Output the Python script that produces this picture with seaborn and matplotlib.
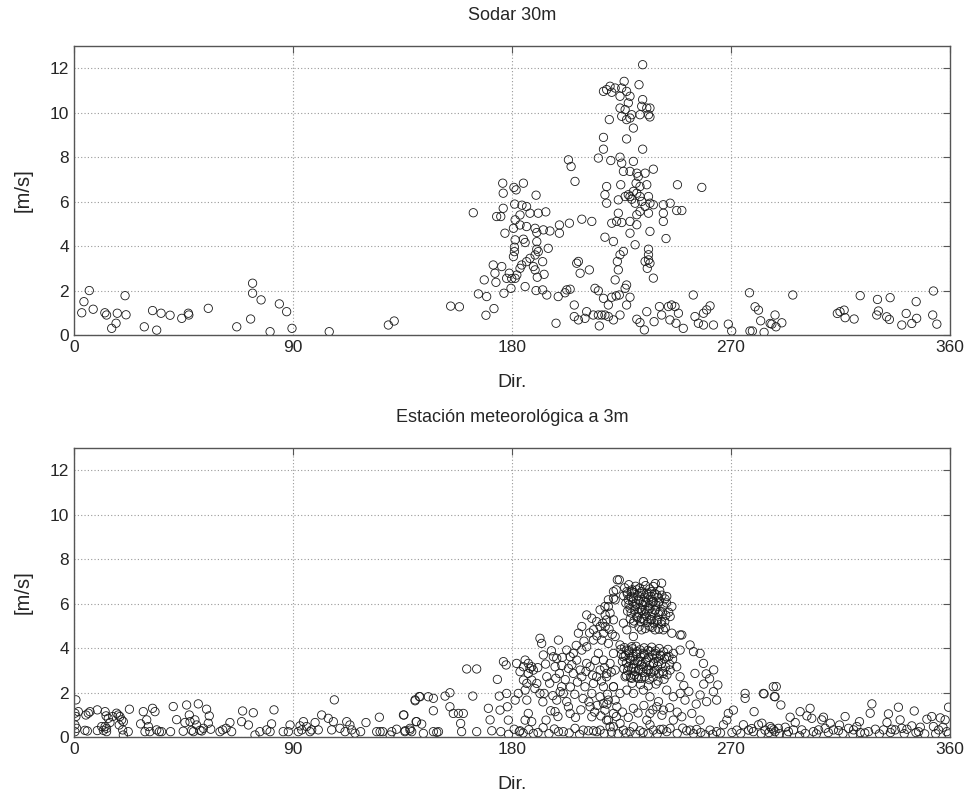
import matplotlib
matplotlib.use("Agg")
import matplotlib.pyplot as plt
import seaborn as sns
import pandas as pd

# Sodar 30m: (direction [deg], speed [m/s])
sodar_west = [
    (3.2, 1.0), (4.1, 1.5), (6.3, 2.0), (7.9, 1.16), (12.7, 1.0), (13.4, 0.9),
    (15.5, 0.3), (17.3, 0.53), (17.8, 0.98), (21.0, 1.77), (21.4, 0.91),
    (28.9, 0.37), (32.3, 1.1), (34.0, 0.22), (35.8, 0.98), (39.5, 0.89),
    (44.3, 0.75), (47.0, 0.98), (47.2, 0.9), (55.2, 1.2), (66.9, 0.37),
    (72.6, 0.72), (73.4, 2.33), (73.4, 1.88), (76.9, 1.58), (80.6, 0.15),
    (84.4, 1.4), (87.4, 1.05), (89.6, 0.3), (104.9, 0.15), (129.2, 0.45),
    (131.6, 0.63), (154.8, 1.3), (158.4, 1.27),
]
sodar_core = [
    (164.1, 5.5), (166.2, 1.85), (169.6, 1.73), (169.3, 0.89), (172.6, 1.19),
    (168.6, 2.48), (172.3, 3.15), (173.0, 2.78), (173.4, 2.37), (175.8, 3.08),
    (173.7, 5.33), (175.4, 5.33), (176.2, 6.83), (176.4, 6.38), (176.4, 5.7),
    (177.1, 4.58), (176.7, 1.88), (177.8, 2.55), (178.9, 2.78), (179.6, 2.1),
    (179.9, 2.54), (180.8, 6.64), (181.7, 6.53), (184.7, 6.83), (189.9, 6.29),
    (181.1, 5.89), (184.1, 5.84), (186.0, 5.78), (183.3, 5.4), (187.4, 5.48),
    (190.8, 5.48), (193.9, 5.54), (181.3, 5.18), (180.6, 4.8), (183.3, 4.95),
    (186.0, 4.88), (189.5, 4.8), (192.9, 4.73), (195.6, 4.68), (199.5, 4.95),
    (203.6, 5.03), (199.5, 4.58), (190.2, 4.61), (181.3, 4.28), (184.7, 4.31),
    (185.4, 4.16), (190.2, 4.2), (181.0, 3.95), (181.0, 3.75), (180.6, 3.53),
    (190.2, 3.86), (190.8, 3.75), (194.9, 3.9), (189.5, 3.6), (187.4, 3.45),
    (186.0, 3.3), (184.0, 3.15), (183.3, 3.0), (188.8, 3.08), (189.5, 2.93),
    (192.6, 3.3), (182.0, 2.7), (181.3, 2.55), (190.4, 2.6), (193.2, 2.73),
    (185.4, 2.18), (189.9, 2.0), (192.6, 2.03), (194.3, 1.8), (199.0, 1.73),
    (201.8, 1.9), (202.5, 2.03), (203.9, 2.06), (198.1, 0.53), (205.6, 1.35),
    (205.6, 0.83), (203.2, 7.88), (204.3, 7.58), (205.9, 6.91), (206.6, 3.23),
    (208.0, 2.78), (207.3, 0.68),
    (233.7, 12.16), (217.6, 10.96), (218.9, 11.04), (220.3, 11.19), (221.0, 10.92),
    (222.4, 11.11), (224.4, 10.74), (226.1, 11.41), (225.1, 11.11), (227.1, 10.96),
    (228.5, 10.74), (227.8, 10.44), (226.5, 10.14), (224.4, 10.21), (225.1, 9.84),
    (227.1, 9.69), (229.2, 9.91), (228.5, 9.76), (229.9, 9.31), (232.2, 11.26),
    (233.7, 10.59), (233.3, 10.29), (235.4, 10.21), (236.7, 10.21), (236.1, 9.91),
    (236.7, 9.81), (232.6, 9.91), (220.0, 9.69), (217.6, 8.89), (217.6, 8.36),
    (227.1, 8.82), (233.7, 8.36), (215.5, 7.96), (220.6, 7.85), (224.4, 8.0),
    (225.1, 7.73), (229.9, 7.81), (225.8, 7.36), (228.5, 7.36), (231.3, 7.28),
    (231.9, 7.13), (234.7, 7.28), (238.1, 7.46), (231.0, 6.83), (232.6, 6.68),
    (235.4, 6.76), (224.7, 6.76), (218.9, 6.68), (218.2, 6.31), (218.9, 5.93),
    (223.7, 6.08), (226.5, 6.23), (227.8, 6.31), (228.5, 6.23), (229.2, 6.11),
    (229.9, 6.46), (231.3, 6.38), (232.6, 6.23), (230.6, 5.93), (233.3, 6.01),
    (236.1, 6.23), (236.7, 5.93), (234.7, 5.78), (238.1, 5.86), (236.1, 5.48),
    (242.2, 5.86), (245.0, 5.93), (247.7, 5.6), (249.8, 5.6), (248.0, 6.76),
    (258.0, 6.64), (232.6, 5.56), (231.3, 5.41), (223.7, 5.48), (223.0, 5.11),
    (221.0, 5.03), (225.1, 5.06), (228.5, 5.11), (231.3, 4.96), (242.2, 5.48),
    (242.2, 5.11), (236.7, 4.66), (228.5, 4.58), (243.3, 4.34), (218.2, 4.4),
    (221.7, 4.21), (230.6, 4.06), (236.1, 3.86), (225.8, 3.76), (224.4, 3.61),
    (236.1, 3.61), (236.1, 3.38), (234.7, 3.31), (236.7, 3.23), (235.6, 3.0),
    (223.3, 3.31), (223.7, 2.93), (238.1, 2.56), (222.4, 2.48), (227.1, 2.25),
    (226.5, 2.1), (207.3, 3.31), (211.8, 2.93), (208.7, 5.21), (212.8, 5.11),
    (214.1, 2.1), (215.5, 1.99), (217.6, 1.65), (221.0, 1.7), (222.8, 1.76),
    (224.1, 1.8), (228.5, 1.7), (219.6, 1.35), (227.1, 1.35), (210.7, 1.05),
    (210.0, 0.75), (213.4, 0.9), (215.5, 0.9), (216.9, 0.9), (218.2, 0.9),
    (219.6, 0.83), (221.7, 0.68), (224.4, 0.9), (215.9, 0.41), (231.3, 0.71),
    (232.6, 0.56), (234.4, 0.23), (235.4, 1.05), (238.4, 0.6), (240.6, 1.28),
    (241.5, 0.9), (244.3, 1.28), (245.6, 1.35), (247.0, 1.28), (244.9, 0.68),
    (247.4, 0.53), (248.4, 0.98), (250.4, 0.3), (254.5, 1.8), (255.2, 0.83),
    (256.6, 0.53), (258.7, 0.45), (258.7, 0.98), (260.0, 1.13), (261.4, 1.31),
    (262.8, 0.45),
]
sodar_east = [
    (268.9, 0.49), (270.3, 0.18), (277.6, 1.9), (279.9, 1.27), (281.3, 1.12),
    (282.2, 0.64), (277.8, 0.18), (278.8, 0.18), (283.6, 0.12), (286.1, 0.52),
    (286.8, 0.49), (288.1, 0.9), (288.5, 0.37), (290.9, 0.55), (295.4, 1.8),
    (313.7, 0.97), (314.8, 1.05), (316.5, 1.12), (316.9, 0.78), (320.6, 0.72),
    (323.1, 1.77), (330.2, 1.6), (335.4, 1.68), (330.6, 1.08), (329.9, 0.9),
    (334.0, 0.82), (335.1, 0.7), (340.2, 0.45), (342.0, 0.97), (344.3, 0.52),
    (346.1, 1.5), (346.3, 0.75), (353.2, 1.98), (352.9, 0.9), (354.6, 0.49),
]

# Estacion meteorologica 3m
station_west = [
    (0.8, 1.67), (0.4, 1.07), (0.8, 0.92), (0.4, 0.54), (1.1, 0.39), (0.4, 0.24),
    (1.8, 1.14), (4.9, 0.99), (4.5, 0.3), (5.5, 0.27), (6.6, 1.14), (5.9, 1.07),
    (9.6, 1.22), (9.6, 0.29), (11.4, 0.47), (12.8, 1.14), (13.2, 0.95), (12.1, 0.3),
    (12.8, 0.47), (13.4, 0.39), (13.4, 0.24), (14.1, 0.84), (14.8, 0.65),
    (15.9, 0.92), (17.5, 1.07), (18.2, 0.99), (18.9, 0.92), (19.6, 0.77),
    (20.3, 0.69), (18.6, 0.54), (20.0, 0.32), (20.3, 0.09), (22.3, 0.24),
    (22.8, 1.25), (27.4, 0.59), (28.5, 1.14), (29.9, 0.77), (30.6, 0.47),
    (29.2, 0.24), (31.2, 0.24), (32.3, 1.29), (33.3, 1.14), (34.0, 0.32),
    (35.1, 0.24), (36.0, 0.24), (39.7, 0.24), (40.8, 1.37), (42.2, 0.78),
    (44.9, 0.26), (45.6, 0.65), (46.3, 1.44), (47.4, 0.99), (47.7, 0.69),
    (48.4, 0.3), (49.1, 0.24), (49.7, 0.77), (50.4, 0.54), (51.1, 1.49),
    (51.8, 0.3), (52.5, 0.27), (53.2, 0.39), (54.5, 1.25), (55.6, 0.95),
    (55.2, 0.62), (56.2, 0.35), (60.0, 0.24), (61.1, 0.32), (62.5, 0.39),
    (64.1, 0.65), (64.8, 0.24), (69.3, 1.17), (68.9, 0.69), (71.7, 0.54),
    (73.7, 1.09), (74.4, 0.09), (76.4, 0.24), (79.2, 0.32), (80.6, 0.24),
    (81.2, 0.59), (82.2, 1.22), (86.0, 0.24), (88.8, 0.54), (88.1, 0.24),
    (92.2, 0.24), (92.9, 0.5), (93.6, 0.32), (94.3, 0.69), (95.6, 0.47),
    (97.0, 0.24), (97.7, 0.32), (99.1, 0.65), (100.4, 0.32), (101.8, 0.99),
    (104.5, 0.84), (105.9, 0.32), (106.6, 0.69), (107.0, 1.67), (109.3, 0.39),
    (111.4, 0.24), (112.1, 0.69), (113.4, 0.54), (114.1, 0.32), (115.5, 0.17),
    (117.8, 0.24), (120.0, 0.65), (124.4, 0.24), (125.5, 0.89), (125.8, 0.24),
    (126.9, 0.24), (129.9, 0.09), (130.6, 0.24), (132.6, 0.35), (135.4, 0.99),
    (136.0, 0.24), (138.1, 0.39), (138.8, 0.24), (140.2, 1.67), (140.8, 0.69),
    (141.9, 1.82),
]
station_core = [
    (135.6, 0.99), (136.1, 0.28), (138.1, 0.31), (140.2, 1.63), (140.6, 0.69),
    (142.9, 0.58), (143.6, 0.16), (142.2, 1.81), (145.6, 1.81), (147.7, 1.74),
    (147.7, 1.18), (147.7, 0.24), (149.8, 0.24), (149.1, 0.21), (152.5, 1.84),
    (154.5, 1.99), (154.5, 1.36), (155.9, 1.06), (158.0, 1.06), (160.0, 1.06),
    (158.9, 0.61), (159.3, 0.24), (161.4, 3.06), (165.5, 3.06), (163.9, 1.84),
    (165.5, 0.24), (170.3, 1.29), (171.0, 0.77), (171.7, 0.28), (174.0, 2.59),
    (174.8, 1.84), (175.1, 1.21), (175.4, 0.24), (177.8, 1.96), (178.1, 1.36),
    (178.5, 0.76), (176.5, 3.39), (177.6, 3.24), (181.3, 1.66), (182.6, 1.96),
    (183.0, 0.24), (183.3, 0.28), (181.9, 3.31), (183.3, 2.94), (184.7, 3.16),
    (185.4, 3.46), (186.7, 3.31), (187.4, 3.09), (188.1, 3.16), (188.8, 3.01),
    (186.7, 2.86), (184.7, 2.56), (186.1, 2.41), (188.1, 2.56), (185.4, 2.11),
    (186.1, 1.66), (186.7, 1.06), (185.4, 0.76), (188.1, 0.69), (188.8, 0.16),
    (191.5, 4.44), (192.2, 4.21), (192.9, 3.69), (191.5, 1.96), (193.2, 1.96),
    (190.2, 2.41), (194.3, 2.71), (194.0, 0.76), (197.0, 3.61), (197.7, 3.16),
    (198.4, 3.54), (199.1, 4.36), (199.5, 2.86), (200.4, 2.26), (199.8, 2.04),
    (201.1, 1.96), (198.4, 1.66), (197.7, 1.14), (199.1, 0.24), (201.1, 0.24),
    (202.5, 3.91), (203.9, 3.61), (205.2, 3.76), (203.2, 3.09), (205.2, 2.86),
    (202.5, 1.59), (203.9, 1.06), (203.2, 1.36), (206.6, 3.46), (208.0, 3.01),
    (207.3, 4.67), (208.7, 4.97), (210.7, 5.49), (212.8, 5.34), (210.7, 4.06),
    (210.7, 3.31), (208.7, 2.71), (210.0, 2.26), (212.1, 3.16), (213.5, 2.41),
    (212.8, 1.96), (212.1, 1.36), (212.8, 0.91), (209.3, 0.31), (211.4, 0.28),
    (213.5, 0.28), (214.8, 0.24), (216.2, 0.31), (216.2, 5.72), (218.2, 5.87),
    (218.9, 5.27), (216.2, 4.97), (216.9, 4.36), (215.5, 3.76), (217.6, 3.46),
    (216.2, 3.01), (218.9, 2.86), (214.8, 2.71), (217.6, 2.26), (216.2, 1.81),
    (219.6, 1.66), (218.2, 1.21), (219.6, 0.76), (220.3, 0.46), (221.7, 6.54),
    (223.3, 7.07), (222.4, 6.17), (221.7, 5.27), (222.4, 4.52), (221.7, 3.76),
    (222.4, 3.01), (221.7, 2.26), (222.4, 1.66), (221.7, 1.06), (213.5, 4.82),
    (214.8, 5.19), (219.6, 6.17), (220.3, 5.57), (217.6, 4.67), (219.6, 4.21),
    (213.5, 4.36), (208.7, 3.91),
    (224.1, 7.07), (222.8, 6.62), (221.7, 6.24), (219.6, 5.87), (218.3, 5.49),
    (218.3, 4.97), (234.0, 6.99), (241.5, 6.92), (238.1, 6.77), (243.6, 6.32),
    (245.7, 5.87), (245.0, 5.42), (245.7, 4.67), (249.1, 4.59), (242.2, 4.82),
    (225.8, 5.12), (227.2, 4.82), (229.9, 4.52), (233.3, 4.82),
    (227.2, 6.54), (229.2, 6.54), (231.3, 6.62), (233.3, 6.54), (235.4, 6.47),
    (237.4, 6.54), (239.5, 6.39), (227.8, 6.17), (229.9, 6.24), (231.9, 6.17),
    (234.0, 6.09), (236.1, 6.17), (238.1, 6.09), (240.2, 6.02), (228.5, 5.79),
    (230.6, 5.87), (232.6, 5.79), (234.7, 5.72), (236.7, 5.79), (238.8, 5.72),
    (240.9, 5.64), (231.3, 5.42), (233.3, 5.34), (235.4, 5.42), (237.4, 5.27),
    (239.5, 5.27), (241.5, 5.19), (229.9, 5.12), (236.7, 4.97), (238.8, 4.82),
    (224.4, 4.14), (227.2, 3.91), (229.2, 4.06), (231.3, 3.84), (234.0, 3.76),
    (236.7, 3.84), (238.8, 3.76), (240.9, 3.69), (243.6, 3.61), (246.3, 3.76),
    (225.8, 3.61), (228.5, 3.54), (230.6, 3.46), (232.6, 3.39), (235.4, 3.46),
    (238.1, 3.31), (240.2, 3.39), (227.8, 3.16), (229.9, 3.09), (232.0, 3.01),
    (234.0, 3.16), (236.1, 3.01), (238.1, 2.94), (226.5, 2.71), (229.2, 2.64),
    (231.3, 2.71), (233.3, 2.64), (242.2, 2.86), (245.0, 3.01), (247.7, 3.16),
    (249.1, 2.71), (249.1, 3.91), (253.2, 4.14), (254.6, 3.84), (257.3, 3.76),
    (258.7, 3.31), (255.2, 2.86), (249.8, 4.59), (220.3, 3.31), (218.9, 2.71),
    (221.7, 2.26), (224.4, 1.96), (227.2, 2.11), (229.9, 1.96), (234.0, 2.11),
    (236.7, 1.81), (240.2, 1.59), (242.2, 1.21), (243.6, 2.11), (246.3, 1.81),
    (249.1, 1.96), (251.1, 1.66), (253.9, 1.06), (257.3, 1.89), (260.0, 1.59),
    (262.8, 2.04), (264.1, 1.66), (268.9, 1.06), (271.0, 1.21), (275.8, 1.96),
    (275.8, 1.74), (279.5, 1.14), (283.3, 1.96), (287.4, 2.26), (288.1, 1.81),
    (218.9, 0.76), (221.7, 0.46), (224.4, 0.61), (225.8, 0.31), (228.5, 0.24),
    (229.9, 0.46), (232.6, 0.28), (235.4, 0.76), (236.7, 0.55), (238.1, 0.31),
    (240.9, 0.34), (243.6, 0.24), (245.0, 0.39), (246.3, 0.76), (249.8, 0.91),
    (251.8, 0.28), (253.2, 0.31), (255.9, 0.34), (257.3, 0.76), (259.4, 0.1),
    (261.4, 0.31), (264.1, 0.24), (266.9, 0.55), (268.3, 0.76), (272.4, 0.31),
    (275.1, 0.55), (277.2, 0.31), (279.2, 0.24), (281.3, 0.55), (284.0, 0.31),
    (286.7, 0.39), (288.1, 0.24), (217.6, 1.51), (223.1, 1.36), (229.9, 1.29),
    (236.7, 1.06), (239.5, 1.36),
]
# the two dense blobs (about 225-245 deg) and their surroundings
station_blob_high = [
    (226.3, 6.71), (228.0, 6.85), (229.4, 6.62), (230.8, 6.78), (232.5, 6.70),
    (234.9, 6.81), (236.6, 6.66), (238.9, 6.90), (240.7, 6.58),
    (225.9, 6.35), (227.4, 6.44), (228.9, 6.31), (230.2, 6.49), (231.7, 6.36),
    (233.0, 6.45), (234.4, 6.29), (235.8, 6.41), (237.1, 6.33), (238.6, 6.46),
    (240.0, 6.28), (241.6, 6.38), (242.9, 6.21),
    (226.8, 6.02), (228.1, 5.95), (229.6, 6.08), (231.0, 5.98), (232.3, 6.12),
    (233.7, 5.96), (235.0, 6.05), (236.4, 5.92), (237.8, 6.07), (239.1, 5.94),
    (240.6, 6.10), (242.1, 5.89), (243.5, 6.03),
    (227.5, 5.66), (229.0, 5.58), (230.3, 5.71), (231.9, 5.60), (233.2, 5.69),
    (234.6, 5.55), (236.0, 5.68), (237.5, 5.57), (238.8, 5.70), (240.3, 5.52),
    (241.8, 5.63), (243.2, 5.48), (244.4, 5.61),
    (228.6, 5.31), (230.1, 5.22), (231.5, 5.36), (232.9, 5.19), (234.2, 5.30),
    (235.7, 5.15), (237.0, 5.28), (238.4, 5.12), (239.9, 5.24), (241.3, 5.08),
    (242.8, 5.20), (232.2, 4.95), (234.8, 4.88), (237.6, 4.93), (240.4, 4.85),
    (243.0, 4.92),
]
station_blob_low = [
    (224.8, 3.95), (226.2, 4.02), (227.9, 3.88), (229.5, 3.97), (231.0, 4.08),
    (232.6, 3.92), (234.3, 4.01), (235.9, 3.90), (237.4, 4.04), (239.0, 3.87),
    (240.5, 3.98), (242.3, 3.83), (244.1, 3.94),
    (225.0, 3.72), (226.6, 3.66), (228.1, 3.78), (229.7, 3.63), (231.2, 3.74),
    (232.9, 3.60), (234.5, 3.71), (236.2, 3.58), (237.8, 3.69), (239.4, 3.55),
    (241.0, 3.66), (242.7, 3.52), (244.5, 3.63), (246.0, 3.50),
    (225.4, 3.40), (227.0, 3.33), (228.6, 3.45), (230.1, 3.29), (231.7, 3.41),
    (233.3, 3.26), (234.9, 3.37), (236.6, 3.22), (238.2, 3.34), (239.8, 3.19),
    (241.4, 3.30), (243.1, 3.15), (244.8, 3.27),
    (226.0, 3.07), (227.5, 2.98), (229.1, 3.10), (230.6, 2.94), (232.2, 3.05),
    (233.8, 2.90), (235.4, 3.02), (237.0, 2.87), (238.7, 2.99), (240.4, 2.84),
    (242.0, 2.95), (243.7, 2.80),
    (227.0, 2.76), (228.7, 2.68), (230.3, 2.79), (232.0, 2.63), (234.6, 2.72),
    (236.4, 2.58), (238.0, 2.69), (240.0, 2.52), (242.5, 2.60),
    (229.4, 2.42), (232.8, 2.36), (236.0, 2.30), (239.2, 2.38),
]
station_fill = [
    (195.5, 2.42), (196.8, 1.86), (198.0, 2.64), (200.5, 3.22), (201.9, 2.58),
    (204.0, 2.25), (205.8, 1.92), (206.9, 2.47), (209.2, 1.73), (210.4, 2.95),
    (211.6, 1.58), (213.1, 2.78), (214.3, 3.45), (215.0, 1.42), (216.8, 2.52),
    (218.0, 3.12), (219.2, 1.92), (220.8, 2.92), (221.2, 4.62), (219.9, 4.85),
    (217.3, 5.12), (214.9, 4.55), (211.9, 4.68), (209.6, 4.31), (206.4, 4.12),
    (204.6, 3.25), (200.7, 3.58), (196.2, 3.88), (193.8, 3.28), (190.6, 3.12),
    (189.4, 2.18), (192.7, 1.58), (195.9, 1.18), (198.9, 0.92), (206.1, 0.88),
    (208.3, 1.22), (214.0, 1.12), (216.5, 0.95), (219.0, 1.48), (222.9, 0.92),
    (225.4, 1.12), (227.8, 0.88), (231.8, 1.08), (234.2, 1.42), (237.9, 1.22),
    (241.6, 0.98), (244.8, 1.32), (247.9, 1.12), (250.6, 2.32), (252.7, 2.05),
    (255.7, 1.48), (258.8, 2.38), (261.2, 2.62), (262.9, 3.02), (259.8, 2.84),
    (264.6, 2.34),
    (178.6, 0.12), (180.9, 0.35), (184.6, 0.18), (186.9, 0.33), (190.7, 0.2),
    (192.8, 0.42), (195.2, 0.15), (197.4, 0.36), (203.5, 0.18), (205.9, 0.39),
    (207.8, 0.12), (217.9, 0.15), (220.9, 0.22), (223.6, 0.14), (226.9, 0.18),
    (230.9, 0.12), (233.9, 0.2), (236.0, 0.15), (239.7, 0.14), (242.1, 0.35),
    (247.9, 0.16), (250.2, 0.4), (254.6, 0.15), (257.6, 0.2), (262.5, 0.12),
    (265.7, 0.18), (270.4, 0.2), (274.0, 0.16), (278.5, 0.38), (282.4, 0.15),
    (285.6, 0.2), (289.9, 0.15), (292.9, 0.12), (300.5, 0.16), (305.1, 0.14),
    (310.0, 0.2), (316.0, 0.15), (320.1, 0.12), (325.0, 0.18), (331.0, 0.14),
    (335.5, 0.2), (341.2, 0.15), (346.0, 0.2), (349.6, 0.14), (354.1, 0.15),
]
station_east = [
    (283.6, 1.94), (288.6, 2.27), (287.8, 1.82), (290.5, 1.44), (282.7, 0.62),
    (286.1, 0.47), (287.5, 0.32), (289.5, 0.39), (292.3, 0.44), (294.3, 0.89),
    (293.6, 0.24), (295.7, 0.32), (296.4, 0.65), (298.4, 1.14), (298.2, 0.05),
    (299.1, 0.32), (301.2, 0.95), (302.5, 1.29), (303.2, 0.84), (303.9, 0.24),
    (306.0, 0.32), (307.3, 0.77), (308.0, 0.89), (308.7, 0.39), (310.8, 0.62),
    (312.1, 0.32), (314.2, 0.29), (314.6, 0.54), (316.9, 0.92), (318.3, 0.39),
    (320.4, 0.32), (321.7, 0.47), (322.8, 0.69), (323.1, 0.2), (326.5, 0.24),
    (327.2, 1.07), (327.9, 1.49), (329.3, 0.35), (332.7, 0.32), (334.1, 0.65),
    (334.7, 1.04), (336.1, 0.35), (337.5, 0.32), (338.8, 1.34), (339.5, 0.77),
    (340.2, 0.39), (342.3, 0.35), (344.3, 0.5), (345.3, 1.17), (347.1, 0.24),
    (347.8, 0.44), (350.5, 0.8), (352.5, 0.92), (353.2, 0.47), (355.3, 0.32),
    (356.0, 0.86), (358.0, 0.77), (358.7, 0.24), (359.4, 1.34), (359.4, 0.14),
    (357.1, 0.44),
]

titles = ["Sodar 30m", "Estación meteorológica a 3m"]
x_ticks = [0, 90, 180, 270, 360]
y_ticks = [0, 2, 4, 6, 8, 10, 12]

sodar = pd.DataFrame(sodar_west + sodar_core + sodar_east, columns=["dir", "vel"])
station = pd.DataFrame(
    station_west + station_core + station_blob_high + station_blob_low
    + station_fill + station_east,
    columns=["dir", "vel"],
)

sns.set_style("white")
plt.rcParams["font.family"] = ["Liberation Sans", "DejaVu Sans"]

fig = plt.figure(figsize=(9.68, 7.99), dpi=100)
ax1 = fig.add_axes([0.0764, 0.5807, 0.905, 0.3617])
ax2 = fig.add_axes([0.0764, 0.0776, 0.905, 0.3617])

for ax, df, title in zip([ax1, ax2], [sodar, station], titles):
    sns.scatterplot(
        data=df, x="dir", y="vel", ax=ax, marker="o", s=36,
        facecolor="none", edgecolor="#1a1a1a", linewidth=0.6,
    )
    ax.set_xlim(0, 360)
    ax.set_ylim(0, 13)
    ax.set_xticks(x_ticks)
    ax.set_yticks(y_ticks)
    ax.grid(True, color="#999999", linestyle=(0, (1, 2)), linewidth=0.8)
    ax.tick_params(direction="in", top=True, right=True, length=5,
                   labelsize=12.5, color="#555555")
    for sp in ax.spines.values():
        sp.set_color("#555555")
        sp.set_linewidth(1.0)
    ax.set_title(title, fontsize=13, pad=19)
    ax.set_xlabel("Dir.", fontsize=14, labelpad=14)
    ax.set_ylabel("[m/s]", fontsize=14.5, labelpad=12)

fig.savefig("out.png", dpi=100, facecolor="white")
